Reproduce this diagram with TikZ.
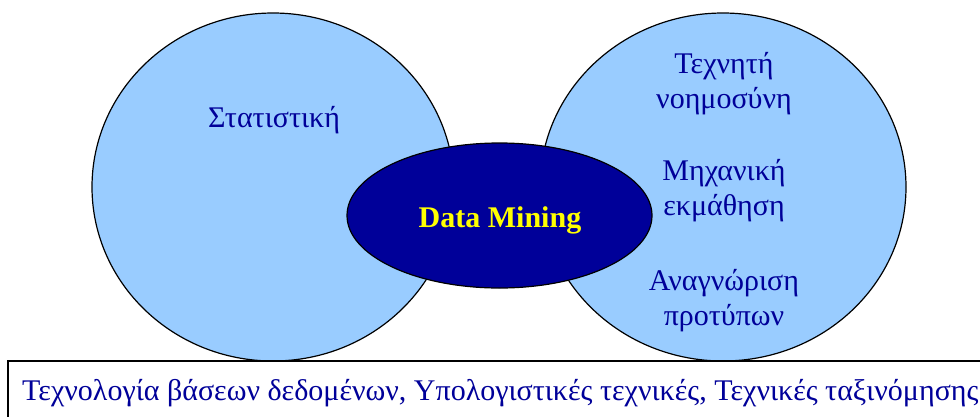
\documentclass[tikz,border=0pt]{standalone}
\usepackage{fontspec}
\setmainfont{Liberation Serif}
\definecolor{skyfill}{HTML}{99CCFF}
\definecolor{navy}{HTML}{000099}
\definecolor{minegold}{HTML}{FFFF00}
\begin{document}
\begin{tikzpicture}[x=1pt,y=-1pt,
  field/.style={draw=black,line width=1.2pt,fill=skyfill},
  fieldtext/.style={text=navy,font=\fontsize{30}{35}\selectfont,align=center,anchor=base,inner sep=0pt},
  core/.style={draw=black,line width=1.2pt,fill=navy},
  basebox/.style={draw=black,line width=1.5pt}]
\useasboundingbox (0,0) rectangle (980,416);
\clip (0,0) rectangle (980,416);
% overlapping disciplines
\draw[field] (273,187) ellipse [x radius=181, y radius=174];
\draw[field] (723,187) ellipse [x radius=183, y radius=174];
% the core ellipse
\draw[core] (499.5,215.5) ellipse [x radius=152.5, y radius=72.5];
\node[text=minegold,font=\fontsize{30}{35}\selectfont\bfseries,anchor=base,inner sep=0pt] (dm) at (500,227) {Data Mining};
% labels of the two fields (anchored on the last line's baseline)
\node[fieldtext] (stat) at (274,127) {Στατιστική};
\node[fieldtext] (ai) at (724,108) {Τεχνητή\\νοημοσύνη};
\node[fieldtext] (ml) at (724,215) {Μηχανική\\εκμάθηση};
\node[fieldtext] (pr) at (724,325) {Αναγνώριση\\προτύπων};
% supporting technologies
\draw[basebox] (8,361) rectangle (995,430);
\node[text=navy,font=\fontsize{30}{35}\selectfont,anchor=base west,inner sep=0pt] (tech) at (22,400)
  {Τεχνολογία βάσεων δεδομένων, Υπολογιστικές τεχνικές, Τεχνικές ταξινόμησης};
\end{tikzpicture}
\end{document}
